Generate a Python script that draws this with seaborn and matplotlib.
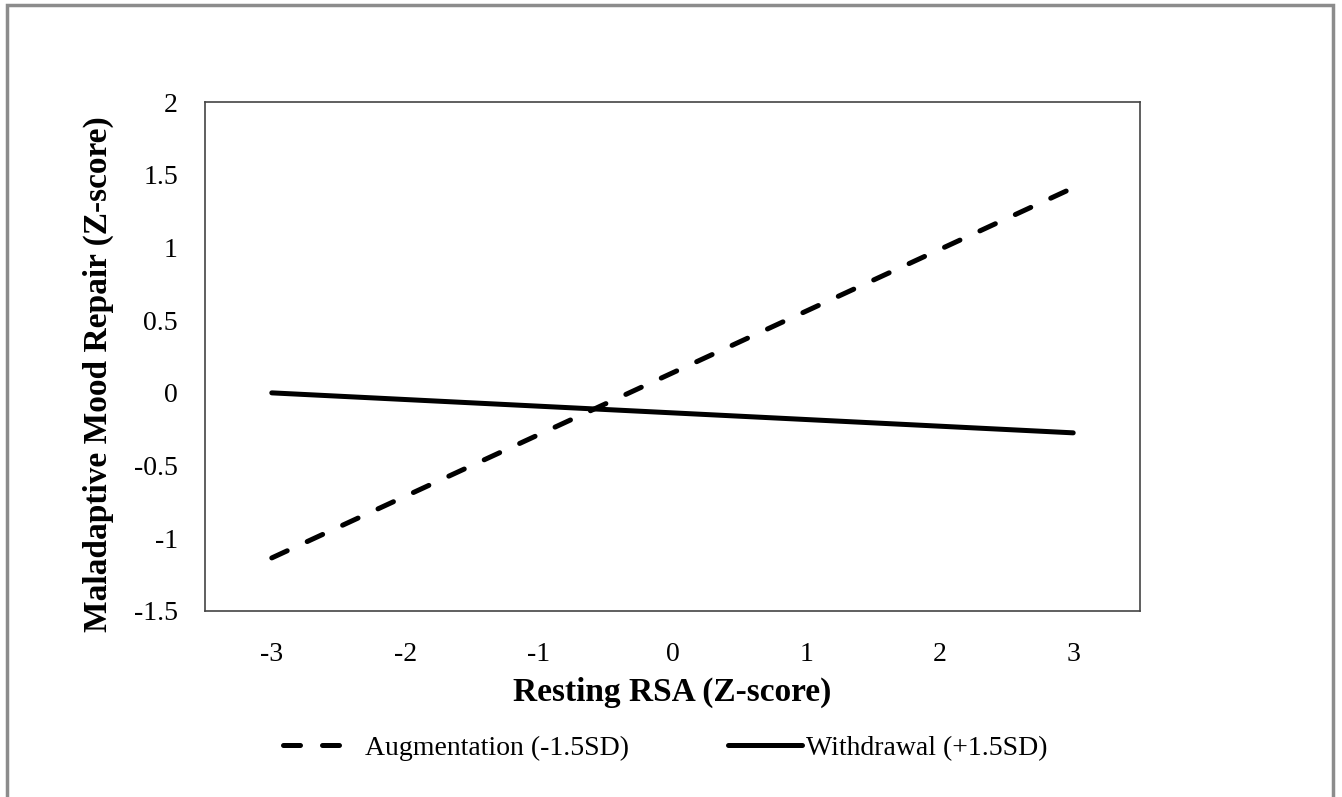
import matplotlib
matplotlib.use('Agg')
import matplotlib.pyplot as plt
import seaborn as sns
import pandas as pd
from matplotlib.patches import Rectangle
from matplotlib.lines import Line2D

# data
rsa = [-3, 3]
augmentation = [-1.135, 1.41]
withdrawal = [0.0, -0.275]
x_ticks = [-3, -2, -1, 0, 1, 2, 3]
y_ticks = [-1.5, -1, -0.5, 0, 0.5, 1, 1.5, 2]
labels = ['Augmentation (-1.5SD)', 'Withdrawal (+1.5SD)']

df = pd.DataFrame({
    'rsa': rsa * 2,
    'mood': augmentation + withdrawal,
    'group': [labels[0]] * 2 + [labels[1]] * 2,
})

sns.set_style('white')
plt.rcParams['font.family'] = ['Liberation Serif', 'DejaVu Serif']
plt.rcParams['text.color'] = 'black'
plt.rcParams['axes.labelcolor'] = 'black'

LW = 3.6
DASH = (3.4, 4.4)

fig = plt.figure(figsize=(13.42, 7.97), dpi=100)
ax = fig.add_axes([205 / 1342, 1 - 611 / 797, 935 / 1342, 509 / 797])

sns.lineplot(data=df, x='rsa', y='mood', style='group',
             dashes={labels[0]: DASH, labels[1]: ''},
             color='black', linewidth=LW, ax=ax, legend=False)
for ln in ax.lines:
    ln.set_dash_capstyle('round')
    ln.set_solid_capstyle('round')

ax.set_xlim(-3.5, 3.5)
ax.set_ylim(-1.5, 2)
ax.set_xticks(x_ticks)
ax.set_xticklabels([f'{t:g}' for t in x_ticks])
ax.set_yticks(y_ticks)
ax.set_yticklabels([f'{t:g}' for t in y_ticks])
ax.tick_params(axis='both', length=0, labelsize=20, colors='black')
ax.tick_params(axis='x', pad=22)
ax.tick_params(axis='y', pad=19.5)
for s in ax.spines.values():
    s.set_color('#444444')
    s.set_linewidth(1.2)

ax.set_xlabel('Resting RSA (Z-score)', fontsize=24, fontweight='bold', labelpad=7)
ax.set_ylabel('Maladaptive Mood Repair (Z-score)', fontsize=24, fontweight='bold')
ax.yaxis.set_label_coords((114 - 205) / 935, (611 - 374) / 509)

# legend below the plot, one entry per legend so spacing can match
fs_px = 20 * 100 / 72
h1 = Line2D([], [], color='black', linewidth=LW, dashes=DASH, dash_capstyle='round')
h2 = Line2D([], [], color='black', linewidth=LW)
fig.legend([h1], [labels[0]], loc='center left',
           bbox_to_anchor=(283 / 1342, 1 - 748 / 797), frameon=False, fontsize=20,
           handlelength=62 / fs_px, handletextpad=20 / fs_px,
           borderpad=0, borderaxespad=0)
fig.legend([h2], [labels[1]], loc='center left',
           bbox_to_anchor=(728 / 1342, 1 - 748 / 797), frameon=False, fontsize=20,
           handlelength=74 / fs_px, handletextpad=4 / fs_px,
           borderpad=0, borderaxespad=0)

# outer chart border
fig.patches.append(Rectangle((7 / 1342, -0.05), 1326 / 1342, 1.05 - 5 / 797,
                             transform=fig.transFigure, fill=False,
                             edgecolor='#8c8c8c', linewidth=2.5))

fig.savefig('out.png', dpi=100)
